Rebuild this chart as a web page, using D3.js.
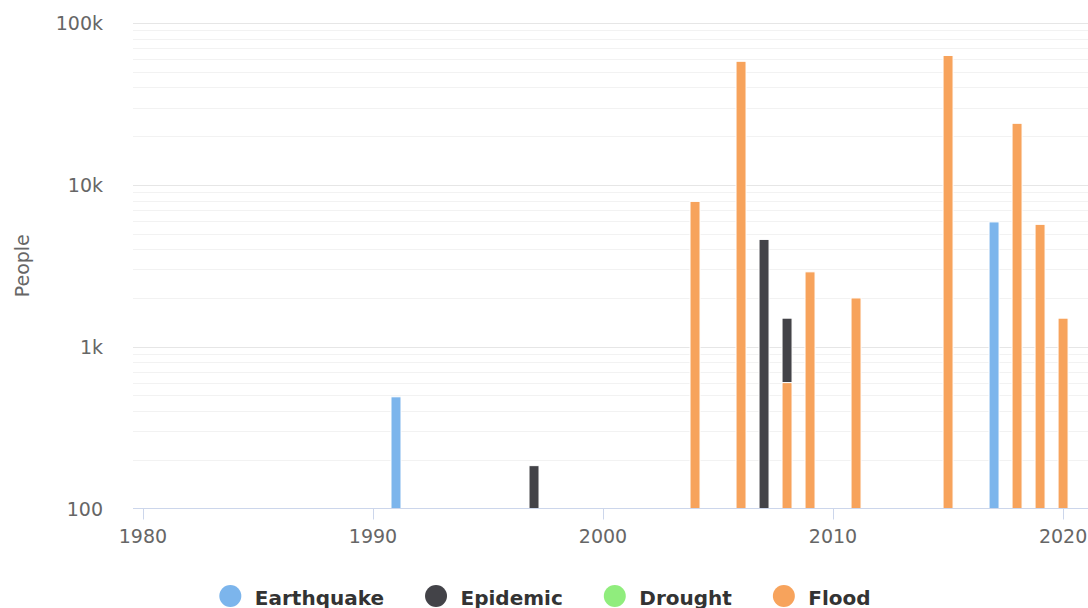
<!DOCTYPE html>
<html>
<head>
<meta charset="utf-8">
<script src="https://cdn.jsdelivr.net/npm/d3@7"></script>
<style>
  html, body { margin: 0; padding: 0; background: #fff; }
  svg { display: block; font-family: "DejaVu Sans", sans-serif; }
</style>
</head>
<body>
<svg id="chart" width="1088" height="608"></svg>
<script>
// ---- Data ----
const years      = [1991, 1997, 2004, 2006, 2007, 2008, 2009, 2011, 2015, 2017, 2018, 2019, 2020];
const earthquake = [ 490,    0,    0,     0,    0,    0,    0,    0,     0, 5900,     0,    0,    0];
const epidemic   = [   0,  184,    0,     0, 4600,  900,    0,    0,     0,    0,     0,    0,    0];
const drought    = [   0,    0,    0,     0,    0,    0,    0,    0,     0,    0,     0,    0,    0];
const flood      = [   0,    0, 7900, 58000,    0,  600, 2900, 2000, 63000,    0, 24000, 5700, 1500];
const seriesNames = ["Earthquake", "Epidemic", "Drought", "Flood"];
const seriesColors = ["#7cb5ec", "#434348", "#90ed7d", "#f7a35c"];
const xTickValues = [1980, 1990, 2000, 2010, 2020];
const yMajorTicks = [100, 1000, 10000, 100000];
const yTickLabels = ["100", "1k", "10k", "100k"];
const yAxisTitle = "People";

(function () {
// ---- Layout ----
const W = 1088, H = 608;
const pLeft = 133, pRight = 1088, pTop = 23, pBottom = 508.5;
const svg = d3.select("#chart");

const x = d3.scaleLinear()
  .domain([1980 - 10 / 23.06, 2020 + 25 / 23.06])
  .range([pLeft, pRight]);
const y = d3.scaleLog().domain([100, 100000]).range([pBottom, pTop]);

// gridlines: minor
const minor = [];
for (let d = 100; d < 100000; d *= 10) for (let k = 2; k <= 9; k++) minor.push(d * k);
svg.append("g").selectAll("line").data(minor).join("line")
  .attr("x1", pLeft).attr("x2", pRight)
  .attr("y1", d => Math.round(y(d)) + 0.5).attr("y2", d => Math.round(y(d)) + 0.5)
  .attr("stroke", "#f2f2f2").attr("stroke-width", 1);
// major
svg.append("g").selectAll("line").data(yMajorTicks.slice(1)).join("line")
  .attr("x1", pLeft).attr("x2", pRight)
  .attr("y1", d => Math.round(y(d)) + 0.5).attr("y2", d => Math.round(y(d)) + 0.5)
  .attr("stroke", "#e6e6e6").attr("stroke-width", 1);

// y labels
svg.append("g").selectAll("text").data(yMajorTicks).join("text")
  .attr("x", 103).attr("y", d => y(d)).attr("dy", "0.38em")
  .attr("text-anchor", "end").attr("fill", "#666").attr("font-size", 19)
  .text((d, i) => yTickLabels[i]);

// y title
svg.append("text")
  .attr("transform", `translate(29,${(pTop + pBottom) / 2}) rotate(-90)`)
  .attr("text-anchor", "middle").attr("fill", "#666").attr("font-size", 19)
  .text(yAxisTitle);

// ---- Stacked bars ----
const table = years.map((yr, i) => ({
  year: yr,
  Earthquake: earthquake[i], Epidemic: epidemic[i], Drought: drought[i], Flood: flood[i]
}));
// Flood on bottom, Earthquake on top (Highcharts reverse stacking)
const stack = d3.stack().keys(["Flood", "Drought", "Epidemic", "Earthquake"]);
const stacked = stack(table);
const barW = 10;
stacked.forEach(layer => {
  const color = seriesColors[seriesNames.indexOf(layer.key)];
  svg.append("g").selectAll("rect")
    .data(layer.filter(d => d[1] - d[0] > 0))
    .join("rect")
    .attr("x", d => x(d.data.year) - barW / 2)
    .attr("width", barW)
    .attr("y", d => y(d[1]))
    .attr("height", d => y(Math.max(d[0], 100)) - y(d[1]))
    .attr("fill", color)
    .attr("stroke", "#fff").attr("stroke-width", 1);
});

// x axis
svg.append("line").attr("x1", pLeft).attr("x2", pRight)
  .attr("y1", pBottom).attr("y2", pBottom)
  .attr("stroke", "#ccd6eb").attr("stroke-width", 1);
svg.append("g").selectAll("line").data(xTickValues).join("line")
  .attr("x1", d => Math.round(x(d)) + 0.5).attr("x2", d => Math.round(x(d)) + 0.5)
  .attr("y1", pBottom).attr("y2", pBottom + 11)
  .attr("stroke", "#ccd6eb").attr("stroke-width", 1);
svg.append("g").selectAll("text").data(xTickValues).join("text")
  .attr("x", d => x(d)).attr("y", 543)
  .attr("text-anchor", "middle").attr("fill", "#666").attr("font-size", 19)
  .text(d => d);

// ---- Legend ----
const lg = svg.append("g");
const items = [];
let cx = 0;
const gap = 41;
seriesNames.forEach((name, i) => {
  const g = lg.append("g");
  g.append("circle").attr("cx", 11).attr("cy", 596).attr("r", 11).attr("fill", seriesColors[i]);
  const t = g.append("text").attr("x", 35.5).attr("y", 604.5)
    .attr("font-size", 20).attr("font-weight", "bold").attr("fill", "#333").text(name);
  const w = t.node().getComputedTextLength();
  items.push({ g, x0: cx });
  cx += 35.5 + w + gap;
});
const total = cx - gap;
const startX = 545 - total / 2;
items.forEach(it => it.g.attr("transform", `translate(${startX + it.x0},0)`));
})();
</script>
</body>
</html>
